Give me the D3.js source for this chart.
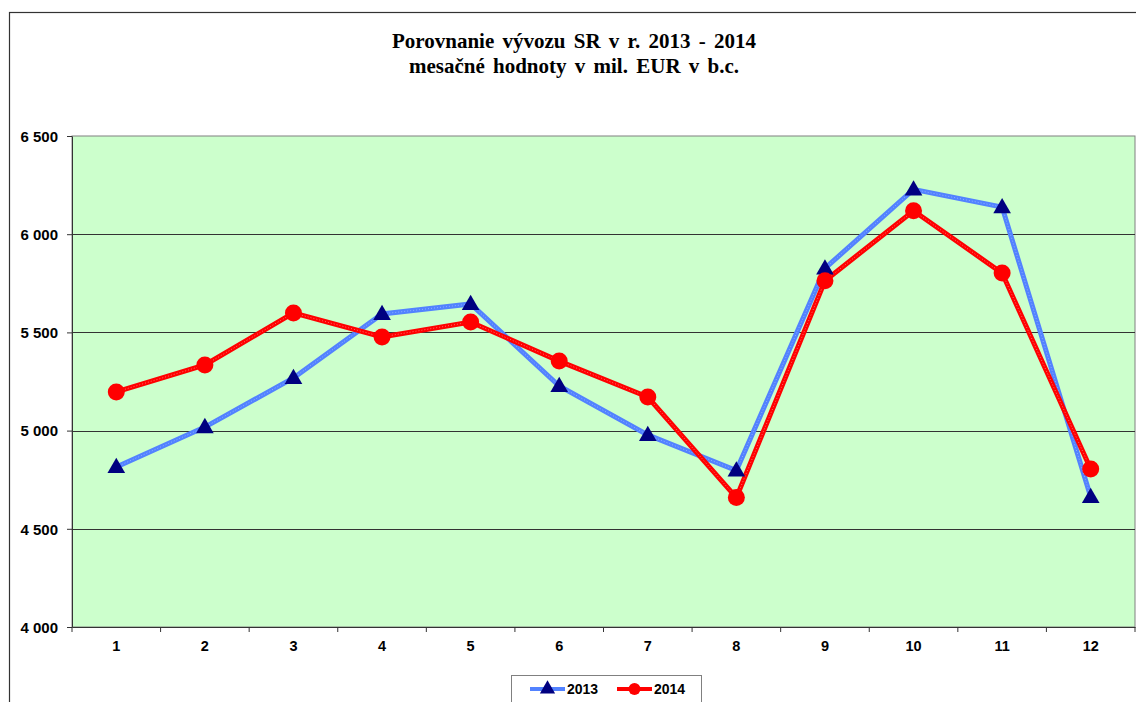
<!DOCTYPE html>
<html>
<head>
<meta charset="utf-8">
<script src="https://cdn.jsdelivr.net/npm/d3@7"></script>
<style>
  body { margin: 0; background: #fff; }
  svg { display: block; }
  .axis text { font-family: "Liberation Sans", Arial, sans-serif; font-weight: bold; fill: #000; }
</style>
</head>
<body>
<svg id="chart" width="1136" height="702"></svg>
<script>
var months = ["1", "2", "3", "4", "5", "6", "7", "8", "9", "10", "11", "12"];
var export2013 = [4815, 5018, 5268, 5594, 5645, 5227, 4978, 4797, 5826, 6228, 6138, 4662];
var export2014 = [5197, 5334, 5599, 5477, 5553, 5354, 5171, 4659, 5763, 6119, 5802, 4804];
var yTicks = [4000, 4500, 5000, 5500, 6000, 6500];
var seriesNames = ["2013", "2014"];

var svg = d3.select("#chart");
var plot = { left: 72, top: 136, right: 1135, bottom: 627 };

// chart area frame (goes past right/bottom edge like the original)
svg.append("rect")
    .attr("x", 9.5).attr("y", 12.5)
    .attr("width", 1200).attr("height", 800)
    .attr("fill", "#fff")
    .attr("stroke", "#333").attr("stroke-width", 1.2);

// title
var title = svg.append("text")
    .attr("text-anchor", "middle")
    .attr("font-family", "'Liberation Serif', 'Times New Roman', serif")
    .attr("font-weight", "bold")
    .attr("font-size", "21px")
    .attr("word-spacing", "3px");
title.append("tspan").attr("x", 574).attr("y", 48).text("Porovnanie vývozu SR v r. 2013 - 2014");
title.append("tspan").attr("x", 574).attr("y", 73).text("mesačné hodnoty v mil. EUR v b.c.");

var x = d3.scaleBand().domain(months).range([plot.left, plot.right]);
var y = d3.scaleLinear().domain([4000, 6500]).range([plot.bottom, plot.top]);

// plot background
svg.append("rect")
    .attr("x", plot.left).attr("y", plot.top)
    .attr("width", plot.right - plot.left).attr("height", plot.bottom - plot.top)
    .attr("fill", "#ccffcc")
    .attr("stroke", "#808080").attr("stroke-width", 1);

// gridlines
svg.append("g").selectAll("line")
    .data(yTicks.slice(1, -1))
    .enter().append("line")
    .attr("x1", plot.left).attr("x2", plot.right)
    .attr("y1", d => Math.round(y(d)) + 0.5).attr("y2", d => Math.round(y(d)) + 0.5)
    .attr("stroke", "#333").attr("stroke-width", 1);

var fmt = d => d3.format(",")(d).replace(",", " ");

var yAxis = svg.append("g")
    .attr("class", "axis")
    .attr("transform", "translate(" + plot.left + ",0)")
    .call(d3.axisLeft(y).tickValues(yTicks).tickFormat(fmt).tickSizeInner(5).tickSizeOuter(0).tickPadding(9));
yAxis.selectAll("line, path").attr("stroke", "#333");
yAxis.selectAll("text").attr("dy", "0.35em").attr("font-size", "15px");

var xAxis = svg.append("g")
    .attr("class", "axis")
    .attr("transform", "translate(0," + plot.bottom + ")")
    .call(d3.axisBottom(x).tickSize(0).tickPadding(12));
xAxis.select("path").attr("stroke", "#333");
xAxis.selectAll("text").attr("font-size", "14.5px").attr("dy", "0.8em");
// ticks between categories
xAxis.selectAll(".sep")
    .data(d3.range(months.length + 1))
    .enter().append("line")
    .attr("class", "sep")
    .attr("x1", i => plot.left + i * x.step()).attr("x2", i => plot.left + i * x.step())
    .attr("y1", 0).attr("y2", 5)
    .attr("stroke", "#333");

var line = d3.line()
    .x((d, i) => x(months[i]) + x.bandwidth() / 2)
    .y(d => y(d));

// 2013
svg.append("path")
    .datum(export2013)
    .attr("d", line)
    .attr("fill", "none")
    .attr("stroke", "#5282ff").attr("stroke-width", 5);
svg.append("path")
    .datum(export2013)
    .attr("d", line)
    .attr("fill", "none")
    .attr("stroke", "#8fb0ff").attr("stroke-width", 1).attr("stroke-dasharray", "1,2");

// 2014
svg.append("path")
    .datum(export2014)
    .attr("d", line)
    .attr("fill", "none")
    .attr("stroke", "#ff0000").attr("stroke-width", 5);
svg.append("path")
    .datum(export2014)
    .attr("d", line)
    .attr("fill", "none")
    .attr("stroke", "#ff6a6a").attr("stroke-width", 1).attr("stroke-dasharray", "1,2");

var tri = d3.symbol().type(d3.symbolTriangle).size(135);

svg.append("g").selectAll("path")
    .data(export2013)
    .enter().append("path")
    .attr("d", tri)
    .attr("transform", (d, i) => "translate(" + (x(months[i]) + x.bandwidth() / 2) + "," + (y(d) + 1) + ")")
    .attr("fill", "#000080");

svg.append("g").selectAll("circle")
    .data(export2014)
    .enter().append("circle")
    .attr("cx", (d, i) => x(months[i]) + x.bandwidth() / 2)
    .attr("cy", d => y(d))
    .attr("r", 8.5)
    .attr("fill", "#ff0000");

// legend
var legend = svg.append("g");
legend.append("rect")
    .attr("x", 511.5).attr("y", 675.5)
    .attr("width", 190).attr("height", 40)
    .attr("fill", "#fff").attr("stroke", "#808080");

var items = [
    { name: seriesNames[0], color: "#5282ff", x0: 530 },
    { name: seriesNames[1], color: "#ff0000", x0: 617 }
];
items.forEach(function (it, k) {
    legend.append("line")
        .attr("x1", it.x0).attr("x2", it.x0 + 35)
        .attr("y1", 689).attr("y2", 689)
        .attr("stroke", it.color).attr("stroke-width", 4);
    if (k === 0) {
        legend.append("path").attr("d", tri.size(100)())
            .attr("transform", "translate(" + (it.x0 + 17.5) + ",689)")
            .attr("fill", "#000080");
    } else {
        legend.append("circle").attr("cx", it.x0 + 17.5).attr("cy", 689).attr("r", 6)
            .attr("fill", "#ff0000");
    }
    legend.append("text")
        .attr("x", it.x0 + 37).attr("y", 694)
        .attr("font-family", "'Liberation Sans', Arial, sans-serif")
        .attr("font-weight", "bold").attr("font-size", "14px")
        .text(it.name);
});
</script>
</body>
</html>
